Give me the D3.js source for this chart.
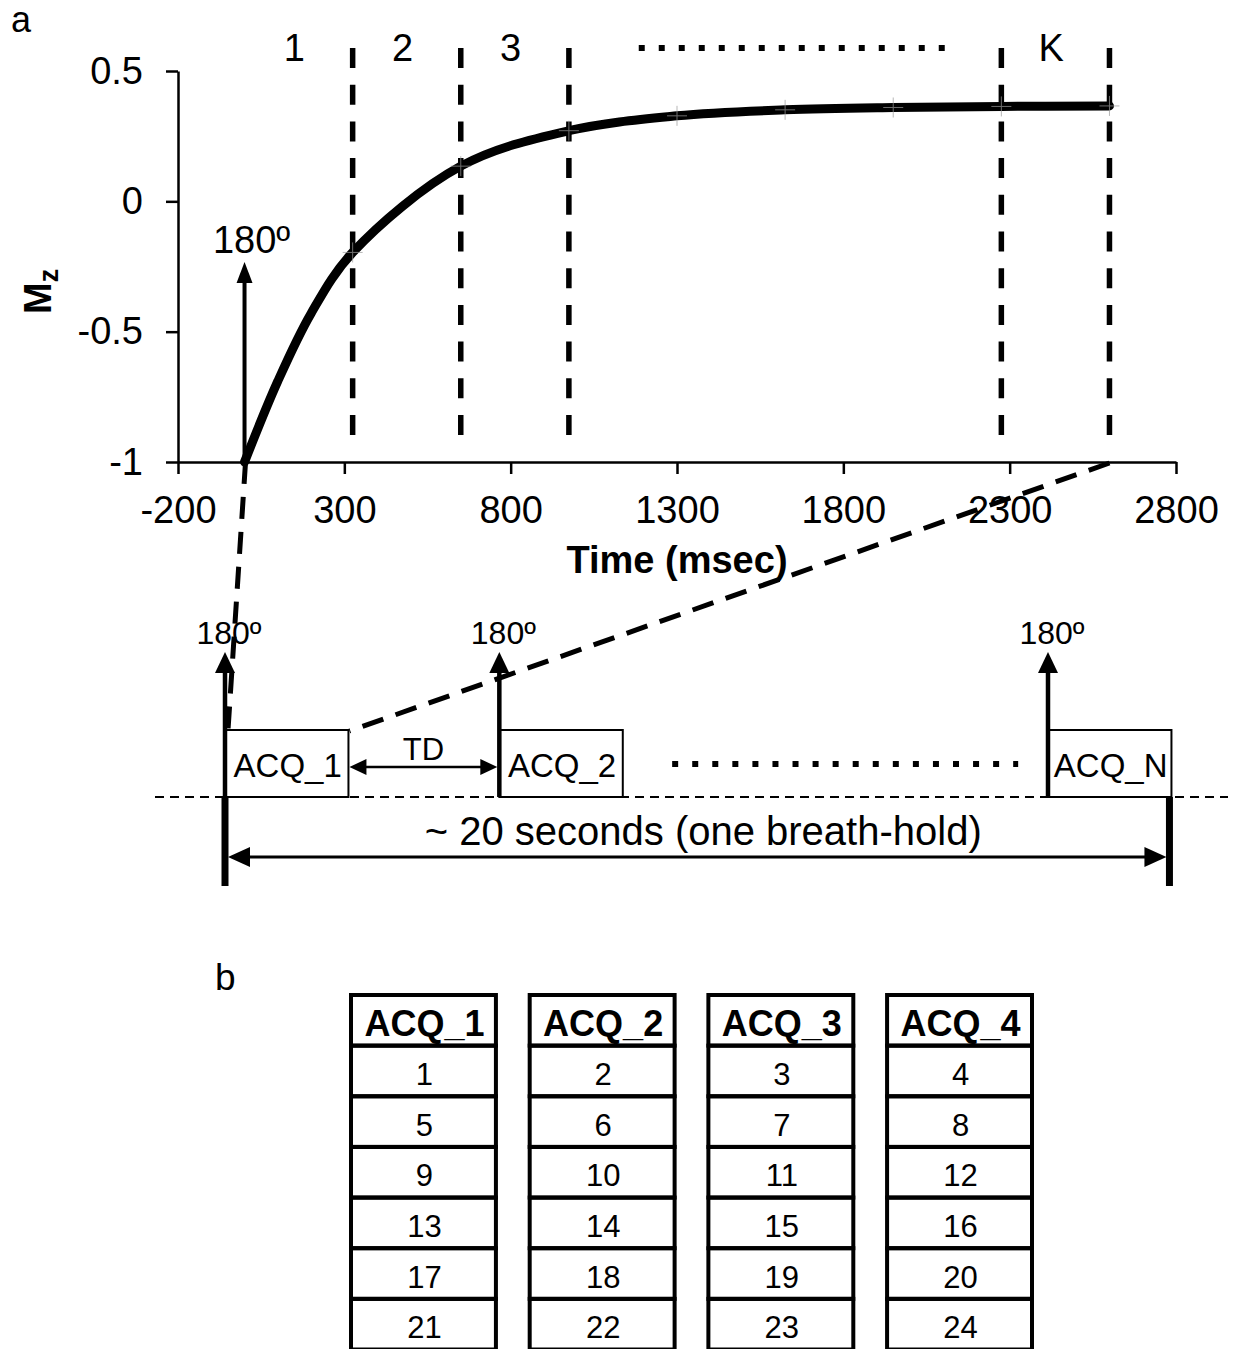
<!DOCTYPE html>
<html>
<head>
<meta charset="utf-8">
<script src="https://cdn.jsdelivr.net/npm/d3@7"></script>
<style>
body{margin:0;background:#fff}
svg text{font-family:"Liberation Sans",Arial,sans-serif;fill:#000}
</style>
</head>
<body>
<svg id="fig" width="1240" height="1349"></svg>
<script>
// inversion recovery curve (time in ms, Mz)
const times = [0, 100, 200, 325, 650, 975, 1300, 1625, 1950, 2275, 2600];
const mzValues = [-1, -0.69, -0.43, -0.196, 0.135, 0.271, 0.328, 0.351, 0.360, 0.364, 0.366];
const markerTimes = [325, 650, 975, 1300, 1625, 1950, 2275, 2600];
const readoutTimes = [325, 650, 975, 2275, 2600];
const segmentLabels = ["1", "2", "3", "K"];
const segmentTimes = [150, 475, 800, 2425];
const xTicks = [-200, 300, 800, 1300, 1800, 2300, 2800];
const yTicks = [-1, -0.5, 0, 0.5];

// timing diagram
const acqNames = ["ACQ_1", "ACQ_2", "ACQ_N"];
const acqSlots = [0, 1, 3];

// panel b table
const tableHeads = ["ACQ_1", "ACQ_2", "ACQ_3", "ACQ_4"];
const acq1 = [1, 5, 9, 13, 17, 21];
const acq2 = [2, 6, 10, 14, 18, 22];
const acq3 = [3, 7, 11, 15, 19, 23];
const acq4 = [4, 8, 12, 16, 20, 24];
const tableCols = [acq1, acq2, acq3, acq4];

const svg = d3.select('#fig');
svg.append('rect').attr('width', 1240).attr('height', 1349).attr('fill', '#fff');

function arrowHead(g, tx, ty, dir, len, half) {
    // dir: 'up','left','right'
    let pts;
    if (dir === 'up') pts = [[tx, ty], [tx - half, ty + len], [tx + half, ty + len]];
    else if (dir === 'left') pts = [[tx, ty], [tx + len, ty - half], [tx + len, ty + half]];
    else pts = [[tx, ty], [tx - len, ty - half], [tx - len, ty + half]];
    g.append('path').attr('d', 'M' + pts.join('L') + 'Z').attr('fill', '#000');
}

// ---------- panel a ----------
const x = d3.scaleLinear().domain([-200, 2800]).range([178, 1176]);
const y = d3.scaleLinear().domain([-1, 0.5]).range([462, 71]);

svg.append('text').attr('x', 11).attr('y', 32).attr('font-size', 36).text('a');

const xAxis = svg.append('g').attr('transform', `translate(0,${y(-1)})`)
    .call(d3.axisBottom(x).tickValues(xTicks).tickSize(12).tickSizeOuter(0).tickPadding(22).tickFormat(d => String(d)));
const yAxis = svg.append('g').attr('transform', `translate(${x(-200)},0)`)
    .call(d3.axisLeft(y).tickValues(yTicks).tickSize(12).tickSizeOuter(0).tickPadding(23).tickFormat(d => String(d)));
[xAxis, yAxis].forEach(g => {
    g.attr('font-family', null).attr('font-size', null);
    g.select('.domain').attr('stroke', '#000').attr('stroke-width', 2.5);
    g.selectAll('.tick line').attr('stroke', '#000').attr('stroke-width', 2.5);
    g.selectAll('.tick text').attr('font-size', 38).attr('fill', '#000');
});

svg.append('text').attr('x', 677).attr('y', 573).attr('text-anchor', 'middle')
    .attr('font-size', 38).attr('font-weight', 'bold').text('Time (msec)');

const yLab = svg.append('text').attr('transform', 'translate(51,314) rotate(-90)')
    .attr('font-size', 38).attr('font-weight', 'bold');
yLab.append('tspan').text('M');
yLab.append('tspan').attr('font-size', 27).attr('dy', 7).text('z');

// readout boundaries
svg.append('g').selectAll('line').data(readoutTimes).enter().append('line')
    .attr('x1', d => x(d)).attr('x2', d => x(d))
    .attr('y1', y(0.5) - 23).attr('y2', y(-1) - 12)
    .attr('stroke', '#000').attr('stroke-width', 5.5).attr('stroke-dasharray', '20 16.7');

svg.append('g').selectAll('text').data(segmentLabels).enter().append('text')
    .attr('x', (d, i) => x(segmentTimes[i])).attr('y', 61)
    .attr('text-anchor', 'middle').attr('font-size', 38).text(d => d);

// dotted ellipsis above the plot
svg.append('line').attr('x1', x(1185)).attr('x2', x(1185) + 306).attr('y1', 48).attr('y2', 48)
    .attr('stroke', '#000').attr('stroke-width', 6).attr('stroke-dasharray', '6 14');

// 180 degree pulse arrow
const pulse = svg.append('g');
pulse.append('line').attr('x1', x(0)).attr('x2', x(0)).attr('y1', y(-1)).attr('y2', y(-0.31))
    .attr('stroke', '#000').attr('stroke-width', 4);
arrowHead(pulse, x(0), y(-0.233), 'up', 21, 8);
pulse.append('text').attr('x', x(0) + 7).attr('y', 253).attr('text-anchor', 'middle')
    .attr('font-size', 38).text('180º');

// recovery curve
const pts = times.map((t, i) => [t, mzValues[i]]);
svg.append('path').datum(pts)
    .attr('d', d3.line().x(d => x(d[0])).y(d => y(d[1])).curve(d3.curveCatmullRom.alpha(0.5)))
    .attr('fill', 'none').attr('stroke', '#000').attr('stroke-width', 9).attr('stroke-linecap', 'round');
svg.append('g').selectAll('path').data(pts.filter(d => markerTimes.includes(d[0]))).enter().append('path')
    .attr('d', d => `M${x(d[0]) - 10},${y(d[1])}h20M${x(d[0])},${y(d[1]) - 10}v20`)
    .attr('stroke', '#9a9a9a').attr('stroke-width', 1).attr('opacity', 0.7);

// ---------- timing diagram ----------
const seq = d3.scaleLinear().domain([0, 3]).range([225, 1048]);
const boxW = seq(0.45) - seq(0);
const baseY = 797, boxTop = 730, tipY = 652;

// zoom lines from the curve to ACQ_1
const zoomG = svg.append('g').attr('stroke', '#000').attr('stroke-width', 5).attr('stroke-dasharray', '22 13');
zoomG.append('line').attr('x1', x(0) + 1).attr('y1', y(-1)).attr('x2', seq(0) + 3).attr('y2', boxTop);
zoomG.append('line').attr('x1', x(2600)).attr('y1', y(-1) + 1).attr('x2', seq(0) + boxW + 1).attr('y2', boxTop + 1);

const acqG = svg.append('g').selectAll('g').data(acqSlots).enter().append('g');
acqG.append('rect').attr('x', d => seq(d)).attr('y', boxTop).attr('width', boxW).attr('height', baseY - boxTop)
    .attr('fill', 'none').attr('stroke', '#000').attr('stroke-width', 2);
acqG.append('text').attr('x', d => seq(d) + boxW / 2 + 1).attr('y', 777).attr('text-anchor', 'middle')
    .attr('font-size', 33).text((d, i) => acqNames[i]);
acqG.append('line').attr('x1', d => seq(d)).attr('x2', d => seq(d)).attr('y1', baseY).attr('y2', tipY + 18)
    .attr('stroke', '#000').attr('stroke-width', 4.5);
acqG.each(function (d) { arrowHead(d3.select(this), seq(d), tipY, 'up', 21, 10); });
acqG.append('text').attr('x', d => seq(d) + 4).attr('y', 644).attr('text-anchor', 'middle')
    .attr('font-size', 32).text('180º');

// baseline
svg.append('line').attr('x1', 155).attr('x2', 1228).attr('y1', baseY).attr('y2', baseY)
    .attr('stroke', '#000').attr('stroke-width', 2).attr('stroke-dasharray', '9 6');

// TD
const tdG = svg.append('g');
const tdL = seq(0) + boxW + 1, tdR = seq(1) - 2;
tdG.append('line').attr('x1', tdL + 10).attr('x2', tdR - 10).attr('y1', 767).attr('y2', 767)
    .attr('stroke', '#000').attr('stroke-width', 2.5);
arrowHead(tdG, tdL, 767, 'left', 17, 8);
arrowHead(tdG, tdR, 767, 'right', 17, 8);
tdG.append('text').attr('x', (tdL + tdR) / 2).attr('y', 760).attr('text-anchor', 'middle')
    .attr('font-size', 31).text('TD');

// dotted ellipsis between acquisitions
svg.append('line').attr('x1', seq(1.63)).attr('x2', seq(1.63) + 346).attr('y1', 764).attr('y2', 764)
    .attr('stroke', '#000').attr('stroke-width', 6).attr('stroke-dasharray', '6 14.06');

// breath-hold bracket
const brL = seq(0), brR = seq(3) + boxW - 2;
const brG = svg.append('g');
[brL, brR].forEach(bx => brG.append('line').attr('x1', bx).attr('x2', bx).attr('y1', baseY).attr('y2', 886)
    .attr('stroke', '#000').attr('stroke-width', 7));
brG.append('line').attr('x1', brL + 15).attr('x2', brR - 15).attr('y1', 857).attr('y2', 857)
    .attr('stroke', '#000').attr('stroke-width', 3);
arrowHead(brG, brL + 3, 857, 'left', 22, 10);
arrowHead(brG, brR - 3, 857, 'right', 22, 10);
brG.append('text').attr('x', (brL + brR) / 2 + 6).attr('y', 845).attr('text-anchor', 'middle')
    .attr('font-size', 40).text('~ 20 seconds (one breath-hold)');

// ---------- panel b ----------
svg.append('text').attr('x', 215).attr('y', 990).attr('font-size', 37).text('b');

const colX = d3.scaleBand().domain(tableHeads).range([351, 1032]).paddingInner(0.189);
const rowY = d3.scaleBand().domain(d3.range(7)).range([995, 1349.5]);

const cols = svg.append('g').selectAll('g').data(tableHeads).enter().append('g')
    .attr('transform', d => `translate(${colX(d)},0)`);
cols.each(function (h, ci) {
    const g = d3.select(this);
    const cells = [h].concat(tableCols[ci]);
    g.selectAll('rect').data(cells).enter().append('rect')
        .attr('x', 0).attr('y', (d, i) => rowY(i)).attr('width', colX.bandwidth()).attr('height', rowY.bandwidth())
        .attr('fill', 'none').attr('stroke', '#000').attr('stroke-width', 4);
    g.selectAll('text').data(cells).enter().append('text')
        .attr('x', colX.bandwidth() / 2 + 1)
        .attr('y', (d, i) => rowY(i) + rowY.bandwidth() / 2 + (i === 0 ? 16 : 14))
        .attr('text-anchor', 'middle')
        .attr('font-size', (d, i) => i === 0 ? 36 : 31)
        .attr('font-weight', (d, i) => i === 0 ? 'bold' : 'normal')
        .text(d => d);
});
</script>
</body>
</html>
